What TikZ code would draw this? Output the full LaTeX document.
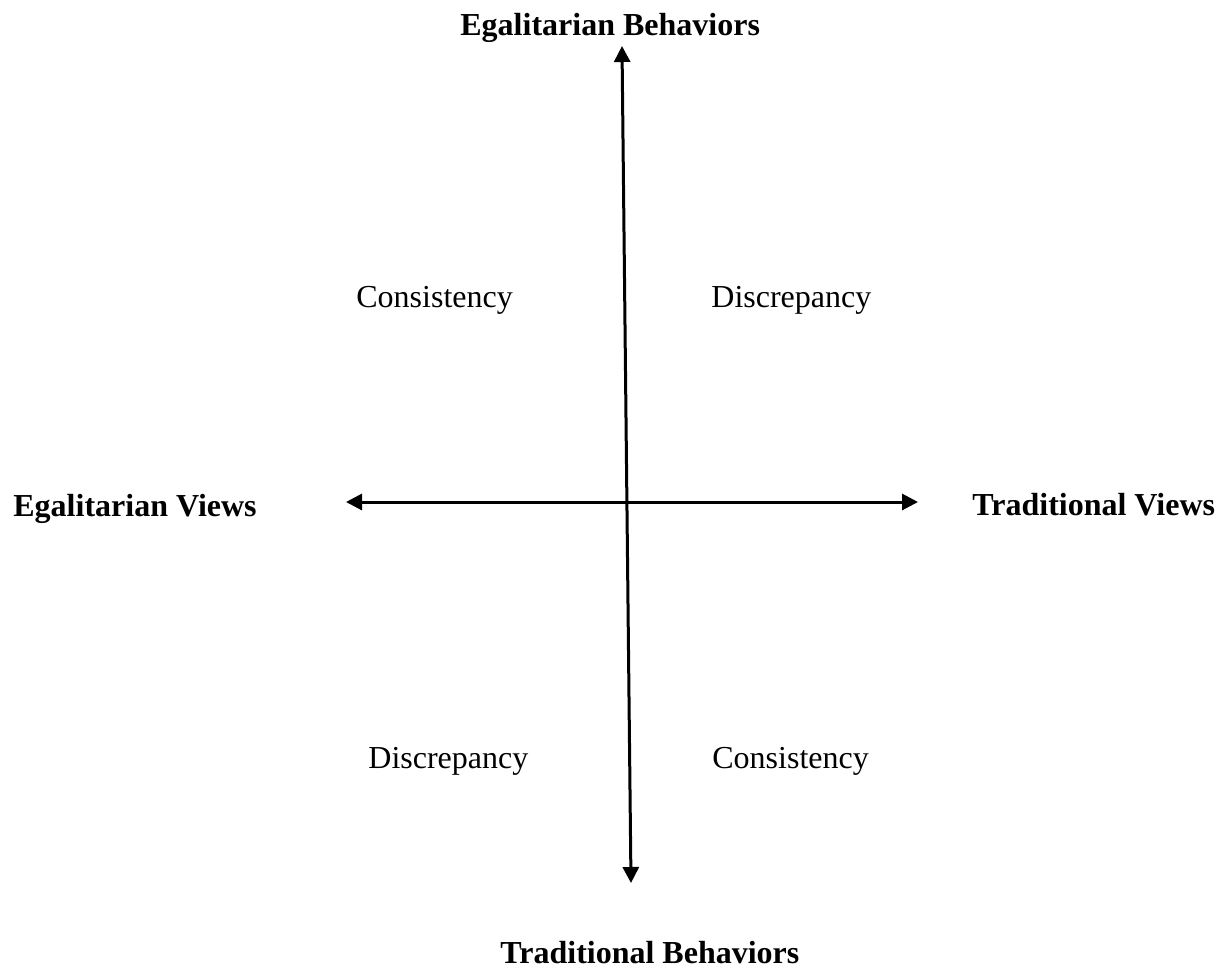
\documentclass[tikz,border=0pt]{standalone}
\usepackage{fontspec}
\setmainfont{Liberation Serif}
\usetikzlibrary{arrows.meta}
\begin{document}
\begin{tikzpicture}[x=0.5pt,y=-0.5pt,
  axis/.style={line width=1.5pt,{Triangle[length=8pt,width=8pt]}-{Triangle[length=8pt,width=8pt]}},
  head/.style={font=\fontsize{16pt}{19pt}\selectfont\bfseries,anchor=base west,inner sep=0pt},
  quad/.style={font=\fontsize{16pt}{19pt}\selectfont,anchor=base west,inner sep=0pt}]
\useasboundingbox (0,0) rectangle (1223,970);
\coordinate (vt) at (622,46);
\coordinate (vb) at (631,883);
\coordinate (hl) at (346,502);
\coordinate (hr) at (918,502);
\draw[axis] (vt) -- (vb);
\draw[axis] (hl) -- (hr);
\node[head] (eb) at (460,35) {Egalitarian Behaviors};
\node[head] (tb) at (500,963) {Traditional Behaviors};
\node[head] (ev) at (13,516) {Egalitarian Views};
\node[head] (tv) at (972,515) {Traditional Views};
\node[quad] (c1) at (356,307) {Consistency};
\node[quad] (d1) at (711,307) {Discrepancy};
\node[quad] (d2) at (368,768) {Discrepancy};
\node[quad] (c2) at (712,768) {Consistency};
\end{tikzpicture}
\end{document}
